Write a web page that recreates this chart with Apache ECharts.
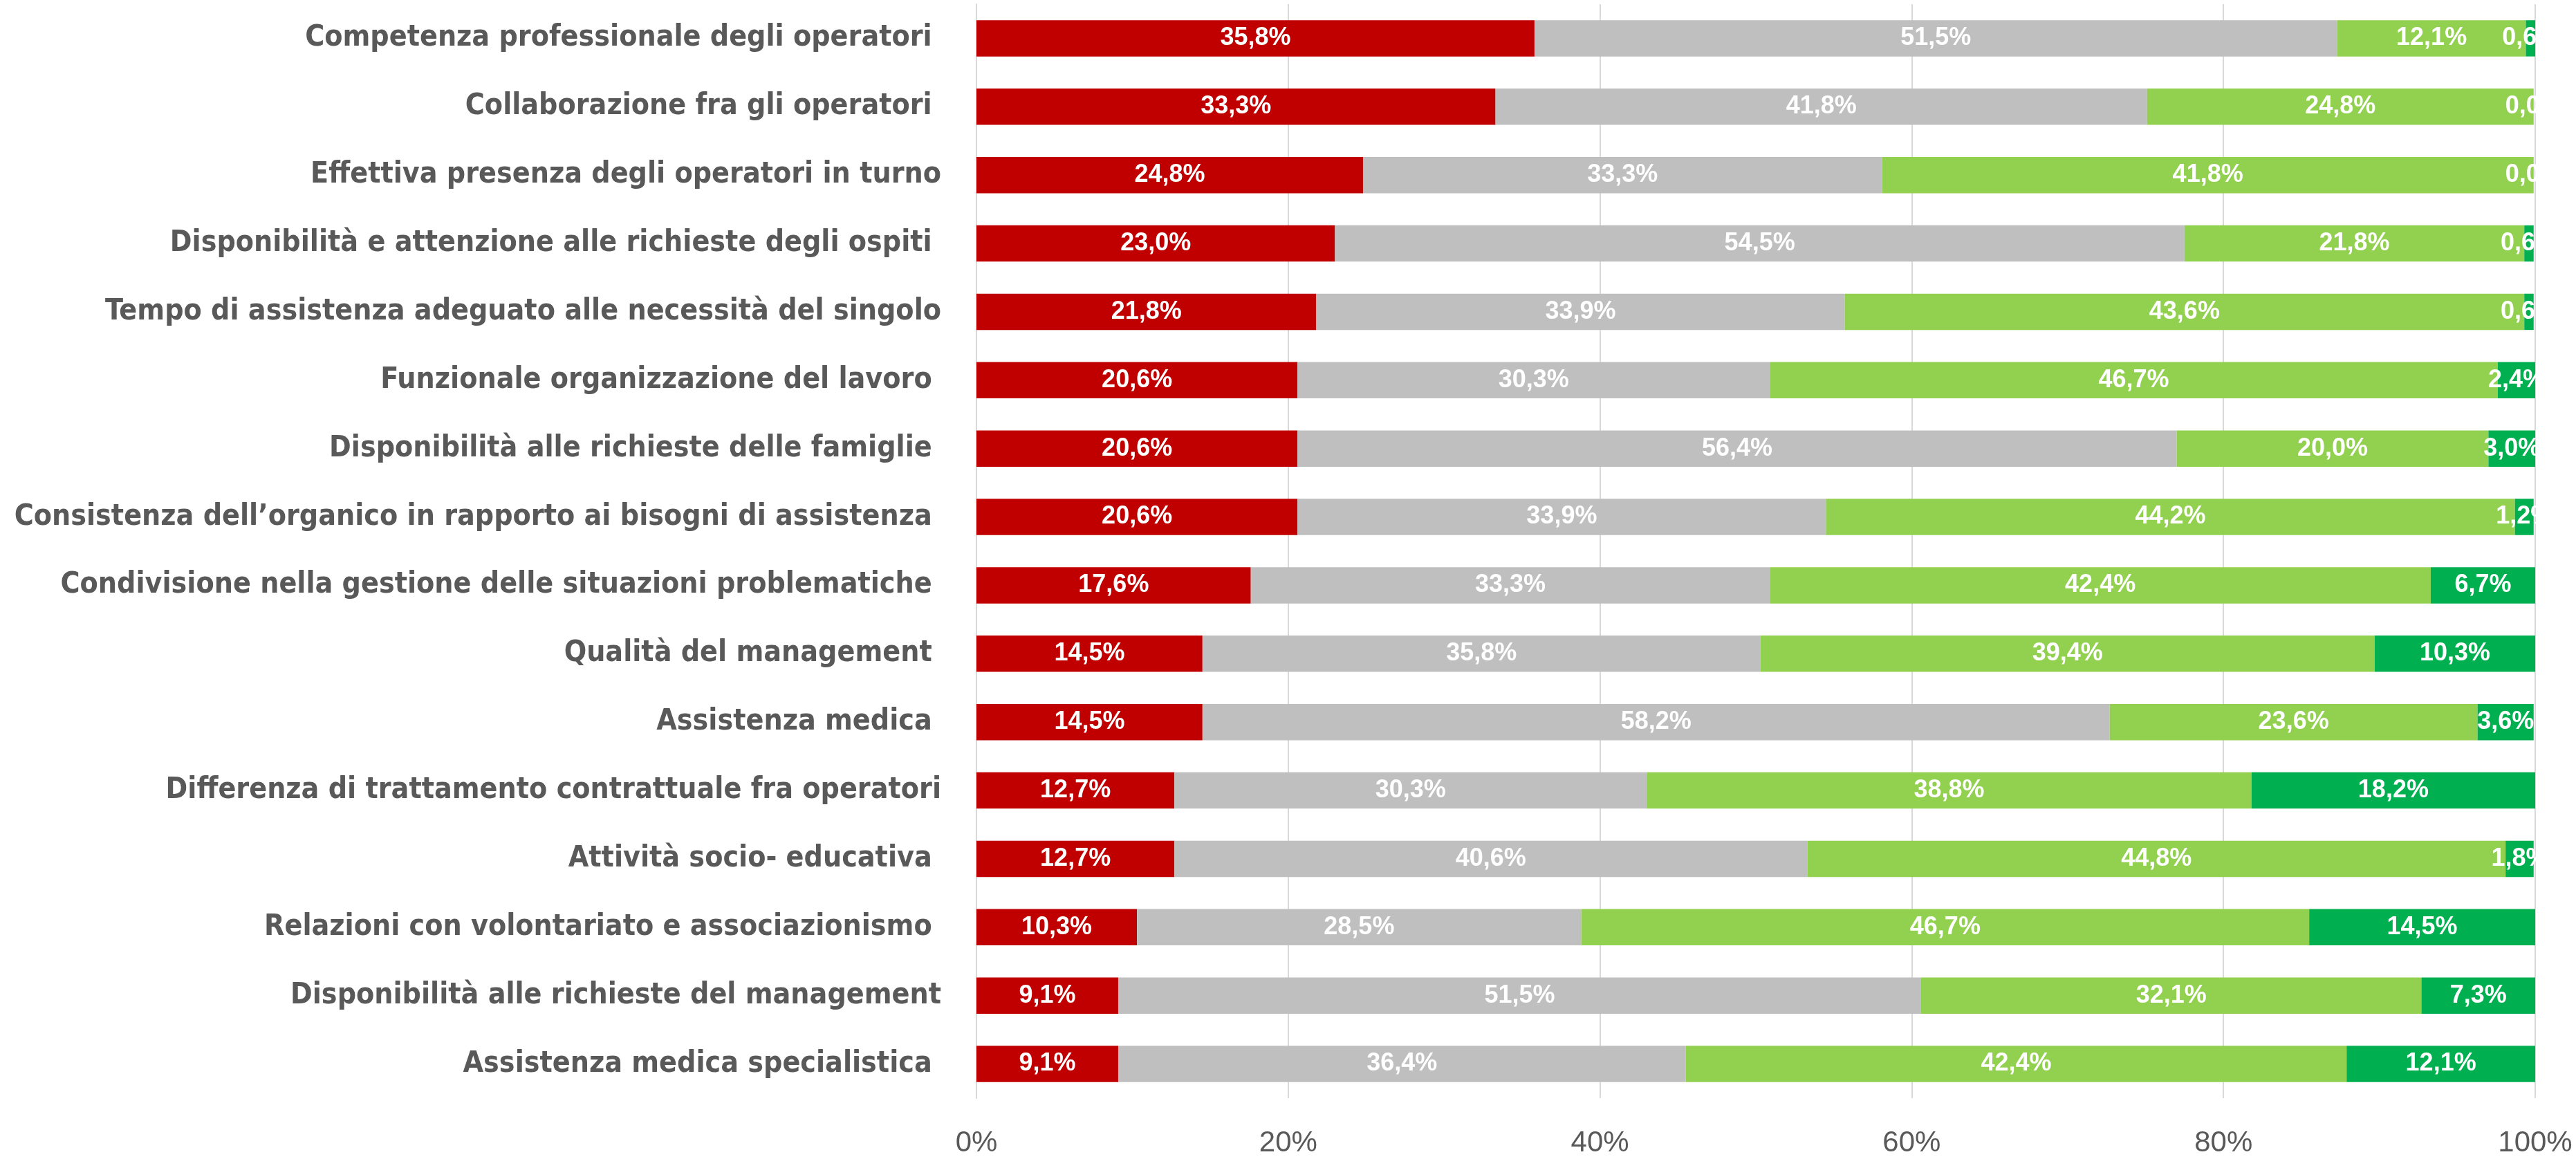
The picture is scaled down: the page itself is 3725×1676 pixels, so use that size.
<!DOCTYPE html>
<html>
<head>
<meta charset="utf-8">
<script src="https://cdn.jsdelivr.net/npm/echarts@6/dist/echarts.min.js"></script>
<style>
  html, body { margin: 0; padding: 0; background: #ffffff; }
  #chart { width: 3725px; height: 1676px; }
</style>
</head>
<body>
<div id="chart"></div>
<script>
const categories = [
  "Competenza professionale degli operatori ",
  "Collaborazione fra gli operatori ",
  "Effettiva presenza degli operatori in turno",
  "Disponibilità e attenzione alle richieste degli ospiti ",
  "Tempo di assistenza adeguato alle necessità del singolo",
  "Funzionale organizzazione del lavoro ",
  "Disponibilità alle richieste delle famiglie ",
  "Consistenza dell’organico in rapporto ai bisogni di assistenza ",
  "Condivisione nella gestione delle situazioni problematiche ",
  "Qualità del management ",
  "Assistenza medica ",
  "Differenza di trattamento contrattuale fra operatori",
  "Attività socio- educativa ",
  "Relazioni con volontariato e associazionismo ",
  "Disponibilità alle richieste del management",
  "Assistenza medica specialistica "
];
const seriesRed       = [35.8, 33.3, 24.8, 23.0, 21.8, 20.6, 20.6, 20.6, 17.6, 14.5, 14.5, 12.7, 12.7, 10.3, 9.1, 9.1];
const seriesGray      = [51.5, 41.8, 33.3, 54.5, 33.9, 30.3, 56.4, 33.9, 33.3, 35.8, 58.2, 30.3, 40.6, 28.5, 51.5, 36.4];
const seriesLightGreen= [12.1, 24.8, 41.8, 21.8, 43.6, 46.7, 20.0, 44.2, 42.4, 39.4, 23.6, 38.8, 44.8, 46.7, 32.1, 42.4];
const seriesDarkGreen = [0.6, 0.0, 0.0, 0.6, 0.6, 2.4, 3.0, 1.2, 6.7, 10.3, 3.6, 18.2, 1.8, 14.5, 7.3, 12.1];
const xTicks = [0, 20, 40, 60, 80, 100];

const colors = ["#C00000", "#BFBFBF", "#92D050", "#00B050"];
const seriesData = [seriesRed, seriesGray, seriesLightGreen, seriesDarkGreen];

const chart = echarts.init(document.getElementById('chart'), null, { renderer: 'canvas' });

const labelFont = {
  show: true,
  position: 'inside',
  color: '#ffffff',
  fontFamily: '"Liberation Sans", Arial, sans-serif',
  fontWeight: 'bold',
  fontSize: 36,
  formatter: p => p.value.toFixed(1).replace('.', ',') + '%'
};

const option = {
  animation: false,
  backgroundColor: '#ffffff',
  grid: { left: 1412, right: 59, top: 6, bottom: 88, containLabel: false, outerBoundsMode: 'none' },
  xAxis: {
    type: 'value',
    min: xTicks[0],
    max: xTicks[xTicks.length - 1],
    interval: xTicks[1] - xTicks[0],
    axisLine: { show: false },
    axisTick: { show: false },
    splitLine: { show: true, lineStyle: { color: '#D9D9D9', width: 2 } },
    axisLabel: {
      formatter: '{value}%',
      color: '#595959',
      fontFamily: '"Liberation Sans", Arial, sans-serif',
      fontSize: 42,
      margin: 44
    }
  },
  yAxis: {
    type: 'category',
    inverse: true,
    data: categories,
    axisLine: { show: true, lineStyle: { color: '#D9D9D9', width: 2 } },
    axisTick: { show: false },
    axisLabel: {
      color: '#595959',
      fontFamily: '"Liberation Sans Narrow", "DejaVu Sans Condensed", sans-serif',
      fontWeight: 'bold',
      fontSize: 42.5,
      margin: 51
    }
  },
  series: seriesData.map((d, i) => ({
    type: 'bar',
    stack: 'total',
    data: d,
    barWidth: '53%',
    itemStyle: { color: colors[i] },
    label: labelFont
  })),
  graphic: [{
    type: 'rect',
    z: 100,
    shape: { x: 3668, y: 0, width: 60, height: 1592 },
    style: { fill: '#ffffff' }
  }]
};
chart.setOption(option);
</script>
</body>
</html>
